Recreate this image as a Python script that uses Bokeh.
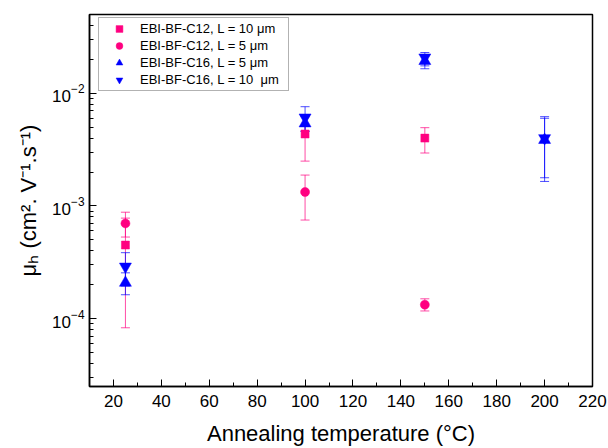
from bokeh.plotting import figure
from bokeh.models import ColumnDataSource, Whisker, TeeHead, FixedTicker, Legend
from bokeh.embed import file_html
from bokeh.resources import INLINE

# ---- data ----
temp_c12 = [25, 100, 150]
c12_10 = [4.5e-4, 4.35e-3, 4.0e-3]
c12_10_lo = [8.3e-5, 2.5e-3, 2.95e-3]
c12_10_hi = [7.8e-4, 6.2e-3, 4.95e-3]

c12_5 = [7.0e-4, 1.33e-3, 1.33e-4]
c12_5_lo = [5.3e-4, 7.5e-4, 1.17e-4]
c12_5_hi = [8.8e-4, 1.88e-3, 1.5e-4]

temp_c16 = [25, 100, 150, 200]
c16_5 = [2.08e-4, 5.4e-3, 1.93e-2, 3.85e-3]
c16_5_lo = [1.63e-4, 4.6e-3, 1.65e-2, 1.65e-3]
c16_5_hi = [2.55e-4, 6.3e-3, 2.2e-2, 6.2e-3]

c16_10 = [2.9e-4, 6.1e-3, 2.08e-2, 4.0e-3]
c16_10_lo = [1.95e-4, 4.6e-3, 1.75e-2, 1.78e-3]
c16_10_hi = [3.85e-4, 7.6e-3, 2.3e-2, 6.0e-3]

labels = ["EBI-BF-C12, L = 10 μm", "EBI-BF-C12, L = 5 μm",
          "EBI-BF-C16, L = 5 μm", "EBI-BF-C16, L = 10  μm"]
x_ticks = [20, 40, 60, 80, 100, 120, 140, 160, 180, 200, 220]
x_minor = [30, 50, 70, 90, 110, 130, 150, 170, 190, 210]
y_ticks = [1e-4, 1e-3, 1e-2]
x_title = "Annealing temperature (°C)"
y_title = "μₕ (cm². V⁻¹.s⁻¹)"

PINK = "#ff0080"
BLUE = "#0000ff"
FONT = "Liberation Sans"

p = figure(width=608, height=448, x_range=(10, 220), y_range=(2.5e-5, 5e-2),
           y_axis_type="log", output_backend="svg", toolbar_location=None,
           min_border_left=89, min_border_right=16, min_border_top=14,
           min_border_bottom=62)
p.background_fill_color = "white"
p.border_fill_color = "white"
p.outline_line_color = "black"
p.outline_line_width = 1.5
p.xgrid.visible = False
p.ygrid.visible = False

series = [
    (temp_c12, c12_10, c12_10_lo, c12_10_hi, PINK, "square", 8, labels[0]),
    (temp_c12, c12_5, c12_5_lo, c12_5_hi, PINK, "circle", 9, labels[1]),
    (temp_c16, c16_5, c16_5_lo, c16_5_hi, BLUE, "triangle", 12, labels[2]),
    (temp_c16, c16_10, c16_10_lo, c16_10_hi, BLUE, "inverted_triangle", 12, labels[3]),
]

items = []
for xs, ys, lo, hi, col, mk, sz, lab in series:
    src = ColumnDataSource(dict(x=xs, y=ys, lo=lo, hi=hi))
    w = Whisker(source=src, base="x", lower="lo", upper="hi",
                line_color=col, line_alpha=0.7, line_width=1, level="underlay",
                lower_head=TeeHead(size=9, line_color=col, line_alpha=0.7, line_width=1),
                upper_head=TeeHead(size=9, line_color=col, line_alpha=0.7, line_width=1))
    p.add_layout(w)
    r = p.scatter("x", "y", source=src, marker=mk, size=sz, fill_color=col,
                  line_color=col, line_width=0.5)
    items.append((lab, [r]))

legend = Legend(items=items, location=(9, 372 - 5 - 72))
legend.label_text_font = FONT
legend.label_text_font_size = "13px"
legend.label_text_color = "black"
legend.glyph_width = 36
legend.glyph_height = 17
legend.label_height = 17
legend.label_width = 146
legend.spacing = 0
legend.padding = 2
legend.label_standoff = 3
legend.border_line_color = "#666666"
legend.border_line_width = 1
legend.background_fill_color = "white"
legend.background_fill_alpha = 1
legend.margin = 0
p.add_layout(legend, "center")

for ax in (p.xaxis[0], p.yaxis[0]):
    ax.axis_line_color = "black"
    ax.axis_line_width = 1.5
    ax.major_tick_line_color = "black"
    ax.minor_tick_line_color = "black"
    ax.major_tick_in = 7
    ax.major_tick_out = 0
    ax.minor_tick_in = 4
    ax.minor_tick_out = 0
    ax.major_label_text_font = FONT
    ax.major_label_text_font_size = "17px"
    ax.major_label_text_color = "black"
    ax.axis_label_text_font = FONT
    ax.axis_label_text_font_size = "22px"
    ax.axis_label_text_font_style = "normal"
    ax.axis_label_text_color = "black"

p.xaxis.ticker = FixedTicker(ticks=x_ticks, minor_ticks=x_minor)
y_minor = [k * 10.0 ** e for e in (-5, -4, -3, -2) for k in range(2, 10)
           if 2.5e-5 <= k * 10.0 ** e <= 5e-2]
p.yaxis.ticker = FixedTicker(ticks=y_ticks, minor_ticks=y_minor)
p.xaxis.major_label_standoff = 8
p.yaxis.major_label_standoff = 5
p.xaxis.axis_label = x_title
p.xaxis.axis_label_standoff = 11
p.yaxis.axis_label = y_title
p.yaxis.axis_label_standoff = 8

open("out.html", "w").write(file_html(p, INLINE))
